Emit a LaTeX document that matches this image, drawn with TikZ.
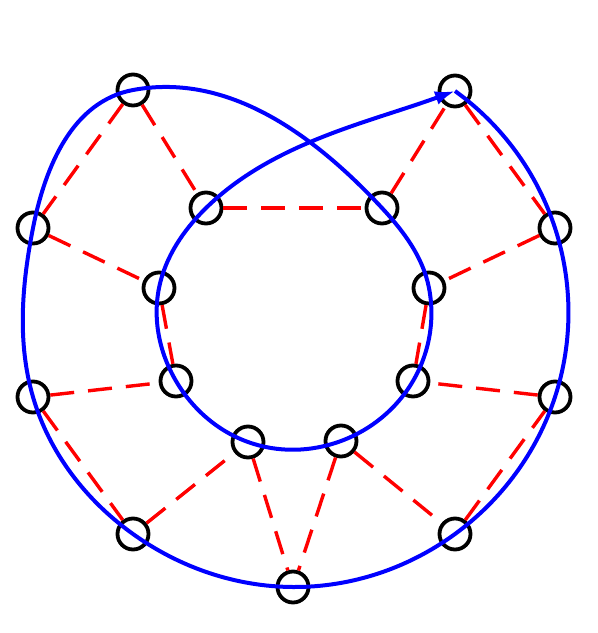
\documentclass[tikz,border=0pt]{standalone}
\usetikzlibrary{arrows.meta}
\usetikzlibrary{hobby}

\tikzset{
  vtx/.style={draw=black, circle, line width=1.9mm, minimum size=15.5mm, inner sep=0pt},
  link/.style={draw=red, line width=1.7mm, dash pattern=on 12mm off 7mm},
  tour/.style={draw=blue, line width=2mm, -{Latex[length=10mm,width=7mm]}},
}

\begin{document}
\begin{tikzpicture}[x=0.5mm, y=-0.5mm]
    \useasboundingbox (0,0) rectangle (598,633);

    % outer ring
    \node [vtx] (o1) at (133,90) {};
    \node [vtx] (o2) at (33,228) {};
    \node [vtx] (o3) at (33,397) {};
    \node [vtx] (o4) at (133,534) {};
    \node [vtx] (o5) at (293,587) {};
    \node [vtx] (o6) at (455,534) {};
    \node [vtx] (o7) at (555,397) {};
    \node [vtx] (o8) at (555,228) {};
    \node [vtx] (o9) at (455,91) {};

    % inner ring
    \node [vtx] (i1) at (206,208) {};
    \node [vtx] (i2) at (382,208) {};
    \node [vtx] (i3) at (429,288) {};
    \node [vtx] (i4) at (413,381) {};
    \node [vtx] (i5) at (341,441) {};
    \node [vtx] (i6) at (248,442) {};
    \node [vtx] (i7) at (176,381) {};
    \node [vtx] (i8) at (159,288) {};

    % edges
    \draw [link] (o1) -- (o2);
    \draw [link] (o1) -- (i1);
    \draw [link] (o2) -- (i8);
    \draw [link] (i1) -- (i2);
    \draw [link] (i2) -- (o9);
    \draw [link] (o9) -- (o8);
    \draw [link] (o8) -- (i3);
    \draw [link] (i3) -- (i4);
    \draw [link] (i8) -- (i7);
    \draw [link] (o3) -- (i7);
    \draw [link] (o3) -- (o4);
    \draw [link] (o4) -- (i6);
    \draw [link] (i6) -- (o5);
    \draw [link] (i5) -- (o5);
    \draw [link] (i5) -- (o6);
    \draw [link] (o6) -- (o7);
    \draw [link] (o7) -- (i4);

    % tour through all vertices
    \draw [tour, use Hobby shortcut] (o9.center) .. (o8.center) .. (o7.center)
        .. (o6.center) .. (o5.center) .. (o4.center) .. (o3.center)
        .. (o2.center) .. ([tension out=1.3]o1.center) .. ([tension in=1.3]i2.center)
        .. (i3.center) .. (i4.center) .. (i5.center) .. (i6.center)
        .. (i7.center) .. (i8.center) .. (i1.center)
        .. ([in angle=200]o9.center);
\end{tikzpicture}
\end{document}
